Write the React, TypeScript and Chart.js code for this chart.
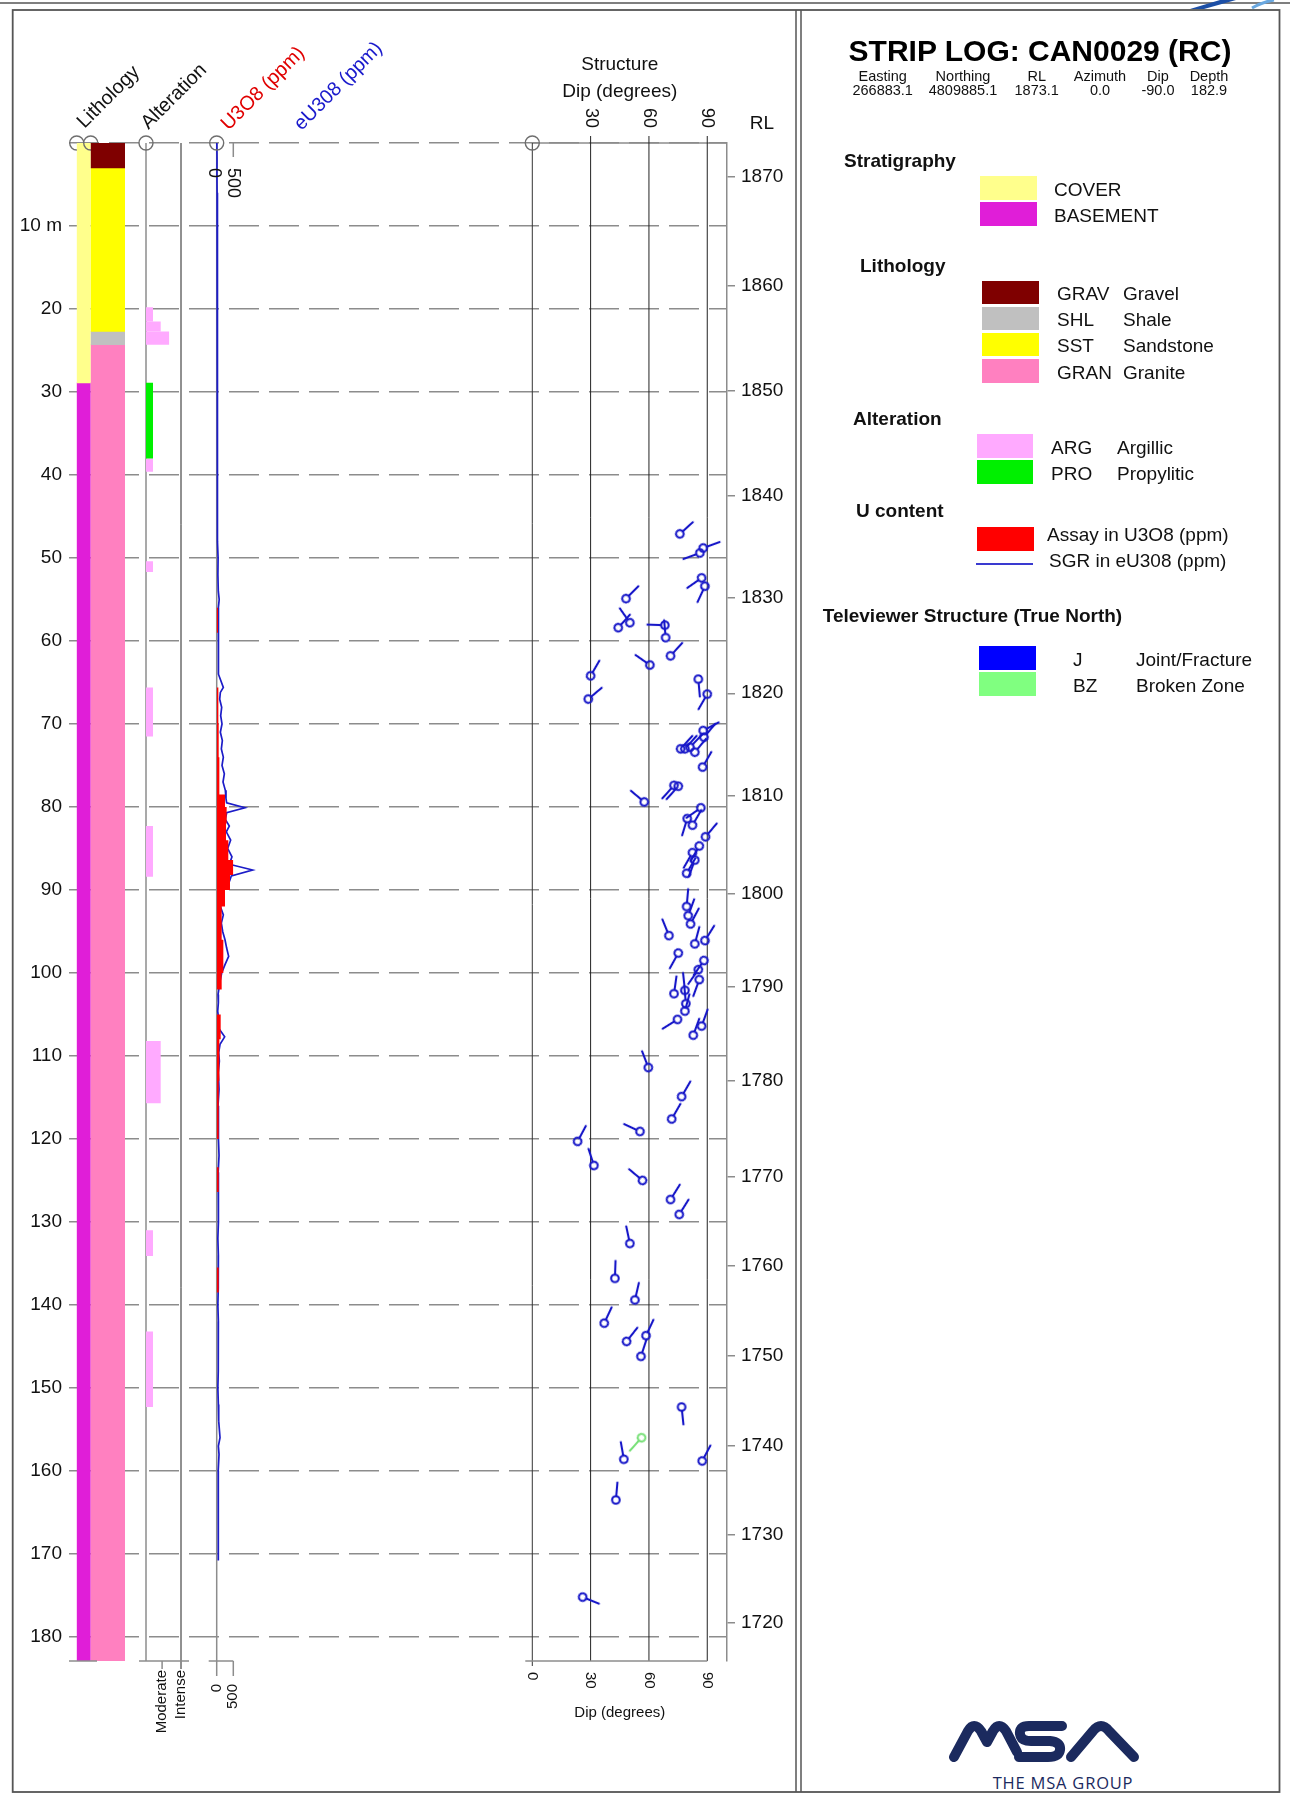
import React, { useEffect, useRef } from 'react';
import { Chart, registerables } from 'chart.js';

Chart.register(...registerables);

const PAGE_W = 1290;
const PAGE_H = 1794;
const PLOT_TOP = 143;
const PLOT_BOTTOM = 1661;
const FONT = '"Liberation Sans", Arial, Helvetica, sans-serif';

// ---------------- data ----------------
const MAX_DEPTH = 182.9;
const depthTicks = [0, 10, 20, 30, 40, 50, 60, 70, 80, 90, 100, 110, 120, 130, 140, 150, 160, 170, 180];
const rlLabels = ['1870', '1860', '1850', '1840', '1830', '1820', '1810', '1800', '1790', '1780', '1770', '1760', '1750', '1740', '1730', '1720'];
const rlTickDepths = [4.1, 17.2, 29.8, 42.5, 54.8, 66.3, 78.7, 90.4, 101.7, 113.0, 124.5, 135.3, 146.1, 157.0, 167.7, 178.3];

const stratigraphy: [string, number, number][] = [
  ['COVER', 0, 28.9],
  ['BASEMENT', 28.9, 182.9],
];
const lithology: [string, number, number][] = [
  ['GRAV', 0, 3.0],
  ['SST', 3.0, 22.7],
  ['SHL', 22.7, 24.3],
  ['GRAN', 24.3, 182.9],
];
const alteration: [string, number, number, number][] = [
  ['ARG', 19.8, 21.5, 1.0],
  ['ARG', 21.5, 22.7, 2.1],
  ['ARG', 22.7, 24.3, 3.3],
  ['PRO', 28.9, 38.0, 1.0],
  ['ARG', 38.0, 39.6, 1.0],
  ['ARG', 50.4, 51.7, 1.0],
  ['ARG', 65.6, 71.5, 1.0],
  ['ARG', 82.3, 88.4, 1.0],
  ['ARG', 108.2, 115.7, 2.1],
  ['ARG', 131.0, 134.1, 1.0],
  ['ARG', 143.2, 152.3, 1.0],
];
const alterationMax = 5;
const alterationTickValues = [2.3, 5];
const alterationTickLabels = ['Moderate', 'Intense'];

const assayIntervals: [number, number, number][] = [
  [56.0, 59.0, 40], [65.6, 70.0, 50], [70.0, 74.0, 60], [74.0, 78.5, 80],
  [78.5, 80.0, 250], [80.0, 82.0, 300], [82.0, 84.0, 280], [84.0, 86.4, 350],
  [86.4, 88.2, 500], [88.2, 90.0, 400], [90.0, 92.0, 250], [92.0, 96.0, 150],
  [96.0, 100.0, 200], [100.0, 102.0, 150], [105.0, 108.0, 120], [108.0, 113.0, 80],
  [113.0, 120.0, 60], [123.4, 126.4, 60], [135.5, 138.5, 60],
];
const uTickValues = [0, 500];

// [depth m, eU3O8 ppm]
const sgrProfile: [number, number][] = [
  [0, 5], [2, 10], [4, 8], [6, 12], [8, 10], [10, 15], [12, 12], [14, 18], [16, 14], [18, 20],
  [20, 16], [22, 22], [24, 18], [26, 26], [28, 22], [30, 18], [32, 26], [34, 22], [36, 30], [38, 24],
  [40, 28], [42, 34], [44, 27], [46, 38], [48, 32], [50, 42], [52, 36], [54, 48], [55, 75], [56, 50],
  [58, 58], [60, 42], [62, 52], [64, 58], [65.6, 200], [66.2, 110], [67, 90], [68, 150], [69, 120], [70, 160],
  [71, 110], [72, 170], [73, 140], [74, 200], [75, 160], [76, 230], [77, 190], [78, 260], [79, 280], [79.5, 300],
  [80.1, 850], [80.7, 300], [81.5, 260], [82.3, 380], [83, 290], [84, 420], [85, 330], [86, 460], [86.9, 380], [87.6, 1080],
  [88.3, 440], [89, 380], [90, 220], [91, 190], [92, 110], [93, 200], [94, 140], [95, 180], [96, 250], [97, 300],
  [98, 360], [99, 250], [100, 150], [101, 100], [101.8, 70], [102.6, 40], [103.6, 50], [104.6, 30], [105.6, 60], [106.6, 50],
  [107.7, 240], [108.6, 100], [109.6, 60], [110.6, 80], [112, 50], [114, 70], [116, 40], [118, 60], [120, 45], [122, 70],
  [124, 45], [126, 60], [128, 40], [130, 55], [132, 35], [134, 50], [136, 40], [138, 55], [140, 35], [142, 50],
  [144, 40], [146, 55], [148, 45], [150, 35], [152, 50], [154, 60], [156, 100], [157, 50], [158, 70], [160, 45],
  [162, 60], [164, 40], [166, 55], [168, 40], [170, 50], [170.8, 45],
];

// [depth m, dip deg, azimuth of tail deg]
const joints: [number, number, number][] = [
  [47.1, 75.9, 48], [48.8, 87.9, 70], [49.4, 86.2, 250], [52.4, 87.1, 235], [53.4, 88.8, 205],
  [54.9, 48.2, 45], [57.8, 50.2, 325], [58.4, 44.2, 42], [58.1, 68.2, 272], [59.6, 68.6, 355],
  [61.8, 71.1, 42], [62.9, 60.5, 305], [64.2, 30.0, 30], [67.0, 28.8, 50], [64.6, 85.4, 175],
  [66.4, 90.0, 210], [70.8, 87.9, 62], [73.0, 76.3, 42], [73.0, 78.5, 42], [72.8, 81.1, 44],
  [73.4, 83.6, 40], [71.6, 88.3, 40], [75.2, 87.6, 30], [79.4, 57.6, 310], [77.4, 72.9, 222],
  [77.5, 75.1, 222], [80.1, 86.7, 235], [81.4, 79.7, 197], [82.2, 82.4, 30], [83.6, 89.1, 40],
  [84.7, 85.9, 210], [85.5, 82.4, 210], [86.4, 83.6, 200], [88.0, 79.4, 30], [92.0, 79.4, 5],
  [93.1, 80.2, 20], [94.1, 81.4, 28], [95.5, 70.3, 338], [96.5, 83.6, 15], [96.1, 88.8, 32],
  [97.6, 75.1, 209], [98.5, 88.3, 215], [99.6, 85.4, 215], [100.8, 85.9, 200], [102.5, 72.9, 8],
  [102.1, 78.5, 354], [103.7, 79.0, 355], [104.6, 78.5, 15], [105.6, 74.7, 238], [107.5, 82.8, 20],
  [106.4, 87.1, 20], [111.4, 59.7, 339], [114.9, 76.8, 30], [117.6, 71.7, 30], [120.3, 23.3, 28],
  [119.1, 55.4, 295], [123.2, 31.7, 342], [125.0, 56.7, 310], [127.3, 71.1, 32], [129.1, 75.6, 32],
  [132.6, 50.2, 348], [136.8, 42.5, 2], [139.4, 52.8, 13], [142.2, 37.0, 25], [144.4, 48.5, 38],
  [143.7, 58.5, 25], [146.2, 55.9, 18], [152.3, 76.8, 174], [158.6, 47.1, 350], [158.8, 87.4, 28],
  [163.5, 43.0, 5], [175.2, 25.9, 112],
];
const brokenZones: [number, number, number][] = [[156.0, 56.2, 222]];
const dipTicks = [0, 30, 60, 90];
const dipTopTicks = [30, 60, 90];
const dipMax = 100;

const headerLabels = ['Easting', 'Northing', 'RL', 'Azimuth', 'Dip', 'Depth'];
const headerValues = ['266883.1', '4809885.1', '1873.1', '0.0', '-90.0', '182.9'];

// ---------------- styles ----------------
const unitColors: Record<string, string> = {
  COVER: '#ffff8c', BASEMENT: '#e01ed8',
  GRAV: '#7f0000', SHL: '#c0c0c0', SST: '#ffff00', GRAN: '#ff80c0',
  ARG: '#ffaaff', PRO: '#00f000',
};
const GRID = '#8c8c8c';
const J_COLOR = '#1616c8';
const BZ_COLOR = '#78e078';
const SGR_COLOR = '#1c1cc8';
const LOGO = '#1b2a5e';

// column geometry (page pixels)
const STRAT_L = 76.7, STRAT_R = 90.7;
const LITH_L = 90.7, LITH_R = 125;
const ALT_L = 146, ALT_R = 181;
const U_L = 216.7, U_R = 233.3;
const ST_L = 532.3, ST_R = 726.7;
const DEPTH_AXIS_W = 69;
const RL_AXIS_X = 727;

// ---------------- helpers ----------------
function seg(ctx: any, x1: number, y1: number, x2: number, y2: number, color: string, width: number) {
  ctx.save();
  ctx.beginPath();
  ctx.moveTo(x1, y1);
  ctx.lineTo(x2, y2);
  ctx.strokeStyle = color;
  ctx.lineWidth = width;
  ctx.stroke();
  ctx.restore();
}
function ring(ctx: any, x: number, y: number) {
  ctx.save();
  ctx.beginPath();
  ctx.arc(x, y, 7, 0, Math.PI * 2);
  ctx.strokeStyle = '#6e6e6e';
  ctx.lineWidth = 1.4;
  ctx.stroke();
  ctx.restore();
}
function rotText(ctx: any, text: string, x: number, y: number, deg: number, align: string, size: number, color: string, baseline = 'middle') {
  ctx.save();
  ctx.translate(x, y);
  ctx.rotate((deg * Math.PI) / 180);
  ctx.textAlign = align;
  ctx.textBaseline = baseline;
  ctx.font = `${size}px ${FONT}`;
  ctx.fillStyle = color;
  ctx.fillText(text, 0, 0);
  ctx.restore();
}
function makeTadpole(color: string) {
  const c = document.createElement('canvas');
  c.width = 40;
  c.height = 40;
  const g = c.getContext('2d') as CanvasRenderingContext2D;
  g.strokeStyle = color;
  g.lineWidth = 2.1;
  g.lineCap = 'round';
  g.beginPath();
  g.arc(20, 20, 3.8, 0, Math.PI * 2);
  g.stroke();
  g.beginPath();
  g.moveTo(20, 20 - 3.8);
  g.lineTo(20, 20 - 17.5);
  g.stroke();
  return c;
}
function baseOptions(left: number, right: number) {
  return {
    responsive: false,
    animation: false,
    devicePixelRatio: 1,
    events: [],
    layout: { padding: { left, right: PAGE_W - right, top: PLOT_TOP, bottom: PAGE_H - PLOT_BOTTOM } },
    plugins: { legend: { display: false }, tooltip: { enabled: false } },
  };
}
const hiddenDepth = () => ({ type: 'linear', reverse: true, min: 0, max: MAX_DEPTH, display: false });

export default function App() {
  const baseRef = useRef<HTMLCanvasElement>(null);
  const stratRef = useRef<HTMLCanvasElement>(null);
  const lithRef = useRef<HTMLCanvasElement>(null);
  const altRef = useRef<HTMLCanvasElement>(null);
  const uRef = useRef<HTMLCanvasElement>(null);
  const stRef = useRef<HTMLCanvasElement>(null);

  useEffect(() => {
    const charts: any[] = [];

    // ---- base: depth axis, dashed grid, RL axis ----
    charts.push(new Chart(baseRef.current as any, {
      type: 'scatter',
      data: { datasets: [] },
      options: {
        ...baseOptions(0, PAGE_W),
        layout: { padding: { left: 0, right: 0, top: PLOT_TOP, bottom: PAGE_H - PLOT_BOTTOM } },
        scales: {
          x: { type: 'linear', display: false, min: 0, max: 1 },
          y: {
            type: 'linear', position: 'left', reverse: true, min: 0, max: MAX_DEPTH,
            afterFit: (s: any) => { s.width = DEPTH_AXIS_W; },
            afterBuildTicks: (s: any) => { s.ticks = depthTicks.map((v) => ({ value: v })); },
            ticks: {
              autoSkip: false, padding: 7, color: '#111',
              font: { family: FONT, size: 19 },
              callback: (v: any) => (v === 0 ? '' : v === 10 ? '10 m' : String(v)),
            },
            grid: { color: GRID, lineWidth: 1.5, drawTicks: false },
            border: { display: false, dash: [30, 10] },
          },
          rl: {
            type: 'linear', position: 'right', reverse: true, min: 0, max: MAX_DEPTH,
            afterFit: (s: any) => { s.width = PAGE_W - RL_AXIS_X; },
            afterBuildTicks: (s: any) => { s.ticks = rlTickDepths.map((v) => ({ value: v })); },
            ticks: {
              autoSkip: false, padding: 6, color: '#111',
              font: { family: FONT, size: 19 },
              callback: (_v: any, i: number) => rlLabels[i],
            },
            grid: { drawOnChartArea: false, drawTicks: true, tickLength: 8, color: GRID, lineWidth: 1.5 },
            border: { display: true, color: GRID, width: 1.5 },
          },
        },
      },
      plugins: [{
        id: 'rlTitle',
        afterDraw(chart: any) {
          const ctx = chart.ctx;
          ctx.save();
          ctx.font = `19px ${FONT}`;
          ctx.fillStyle = '#111';
          ctx.textAlign = 'center';
          ctx.textBaseline = 'middle';
          ctx.fillText('RL', chart.chartArea.right + 35, 124);
          ctx.restore();
        },
      }],
    } as any));

    // ---- stratigraphy ----
    charts.push(new Chart(stratRef.current as any, {
      type: 'bar',
      data: {
        labels: ['Stratigraphy'],
        datasets: stratigraphy.map(([name, from, to]) => ({
          label: name, data: [[from, to]], backgroundColor: unitColors[name],
          grouped: false, barPercentage: 1, categoryPercentage: 1, borderWidth: 0,
        })),
      },
      options: { ...baseOptions(STRAT_L, STRAT_R), scales: { x: { display: false }, y: hiddenDepth() } },
      plugins: [{
        id: 'stratRing',
        beforeDatasetsDraw(chart: any) {
          ring(chart.ctx, chart.chartArea.left, chart.chartArea.top);
        },
      }],
    } as any));

    // ---- lithology ----
    charts.push(new Chart(lithRef.current as any, {
      type: 'bar',
      data: {
        labels: ['Lithology'],
        datasets: lithology.map(([code, from, to]) => ({
          label: code, data: [[from, to]], backgroundColor: unitColors[code],
          grouped: false, barPercentage: 1, categoryPercentage: 1, borderWidth: 0,
        })),
      },
      options: { ...baseOptions(LITH_L, LITH_R), scales: { x: { display: false }, y: hiddenDepth() } },
      plugins: [{
        id: 'lithDeco',
        beforeDatasetsDraw(chart: any) {
          ring(chart.ctx, chart.chartArea.left, chart.chartArea.top);
        },
        afterDraw(chart: any) {
          const ctx = chart.ctx;
          const { bottom } = chart.chartArea;
          seg(ctx, DEPTH_AXIS_W, bottom, 97, bottom, GRID, 1.5);
          rotText(ctx, 'Lithology', 84.5, 129, -45, 'left', 19.8, '#111', 'alphabetic');
        },
      }],
    } as any));

    // ---- alteration ----
    charts.push(new Chart(altRef.current as any, {
      type: 'scatter',
      data: {
        datasets: alteration.map(([code, from, to, v]) => ({
          label: code,
          data: [{ x: 0, y: from }, { x: v, y: from }, { x: v, y: to }, { x: 0, y: to }],
          showLine: true, fill: 'shape', backgroundColor: unitColors[code],
          borderColor: 'rgba(0,0,0,0)', borderWidth: 0, pointRadius: 0,
        })),
      },
      options: {
        ...baseOptions(ALT_L, ALT_R),
        scales: { x: { type: 'linear', min: 0, max: alterationMax, display: false }, y: hiddenDepth() },
      },
      plugins: [{
        id: 'altDeco',
        beforeDatasetsDraw(chart: any) {
          const ctx = chart.ctx;
          const { top, bottom } = chart.chartArea;
          const xs = chart.scales.x;
          seg(ctx, xs.getPixelForValue(0), top, xs.getPixelForValue(0), bottom, GRID, 1.5);
          seg(ctx, xs.getPixelForValue(alterationMax), top, xs.getPixelForValue(alterationMax), bottom + 8, '#222', 1);
        },
        afterDraw(chart: any) {
          const ctx = chart.ctx;
          const { top, bottom } = chart.chartArea;
          const xs = chart.scales.x;
          const x0 = xs.getPixelForValue(0);
          ring(ctx, x0, top);
          seg(ctx, x0 - 7, bottom, xs.getPixelForValue(alterationMax) + 8, bottom, GRID, 1.5);
          alterationTickValues.forEach((v, i) => {
            const x = xs.getPixelForValue(v);
            if (v !== alterationMax) seg(ctx, x, bottom, x, bottom + 8, GRID, 1.5);
            rotText(ctx, alterationTickLabels[i], x, bottom + 9, -90, 'right', 15, '#111');
          });
          rotText(ctx, 'Alteration', 148.5, 130, -45, 'left', 19.8, '#111', 'alphabetic');
        },
      }],
    } as any));

    // ---- U3O8 / eU3O8 ----
    const assayPoints: any[] = [];
    assayIntervals.forEach(([from, to, v]) => {
      assayPoints.push({ x: 0, y: from }, { x: v, y: from }, { x: v, y: to }, { x: 0, y: to });
    });
    charts.push(new Chart(uRef.current as any, {
      type: 'scatter',
      data: {
        datasets: [
          {
            label: 'Assay U3O8', data: assayPoints, showLine: true, fill: 'shape',
            backgroundColor: '#ff0000', borderColor: 'rgba(0,0,0,0)', borderWidth: 0, pointRadius: 0,
          },
          {
            label: 'SGR eU3O8', data: sgrProfile.map(([d, v]) => ({ x: v, y: d })), showLine: true,
            borderColor: SGR_COLOR, borderWidth: 1.7, pointRadius: 0, clip: false,
          },
        ],
      },
      options: {
        ...baseOptions(U_L, U_R),
        scales: { x: { type: 'linear', min: 0, max: 500, display: false }, y: hiddenDepth() },
      },
      plugins: [{
        id: 'uDeco',
        beforeDatasetsDraw(chart: any) {
          const ctx = chart.ctx;
          const { top, bottom } = chart.chartArea;
          const xs = chart.scales.x;
          const x0 = xs.getPixelForValue(uTickValues[0]);
          const x1 = xs.getPixelForValue(uTickValues[1]);
          seg(ctx, x0, top, x0, bottom + 15, GRID, 1.5);
          seg(ctx, x1, top, x1, top + 14, GRID, 1.5);
          seg(ctx, x0 - 8, bottom, x1, bottom, GRID, 1.5);
          seg(ctx, x1, bottom, x1, bottom + 15, GRID, 1.5);
        },
        afterDraw(chart: any) {
          const ctx = chart.ctx;
          const { top, bottom } = chart.chartArea;
          const xs = chart.scales.x;
          const x0 = xs.getPixelForValue(uTickValues[0]);
          ring(ctx, x0, top);
          uTickValues.forEach((v) => {
            const x = xs.getPixelForValue(v);
            rotText(ctx, String(v), x + (v === 0 ? -2.5 : 0), top + 25, 90, 'left', 18, '#111');
            rotText(ctx, String(v), x, bottom + 23, -90, 'right', 15, '#111');
          });
          rotText(ctx, 'U3O8 (ppm)', 228.5, 131, -45, 'left', 19.8, '#e00000', 'alphabetic');
          rotText(ctx, 'eU308 (ppm)', 301.5, 131, -45, 'left', 19.8, '#1a1acc', 'alphabetic');
        },
      }],
    } as any));

    // ---- structure ----
    const tadJ = makeTadpole(J_COLOR);
    const tadBZ = makeTadpole(BZ_COLOR);
    charts.push(new Chart(stRef.current as any, {
      type: 'scatter',
      data: {
        datasets: [
          {
            label: 'J', data: joints.map(([d, dip]) => ({ x: dip, y: d })),
            pointStyle: tadJ, pointRadius: 4, pointRotation: joints.map((j) => j[2]), clip: false,
          },
          {
            label: 'BZ', data: brokenZones.map(([d, dip]) => ({ x: dip, y: d })),
            pointStyle: tadBZ, pointRadius: 4, pointRotation: brokenZones.map((j) => j[2]), clip: false,
          },
        ],
      },
      options: {
        ...baseOptions(ST_L, ST_R),
        scales: { x: { type: 'linear', min: 0, max: dipMax, display: false }, y: hiddenDepth() },
      },
      plugins: [{
        id: 'stDeco',
        beforeDatasetsDraw(chart: any) {
          const ctx = chart.ctx;
          const { top, bottom } = chart.chartArea;
          const xs = chart.scales.x;
          const x0 = xs.getPixelForValue(0);
          seg(ctx, x0, top, xs.getPixelForValue(dipMax), top, GRID, 1.5);
          seg(ctx, x0, top, x0, bottom + 5, '#333', 1);
          dipTopTicks.forEach((v) => {
            const x = xs.getPixelForValue(v);
            seg(ctx, x, top - 7, x, bottom, '#222', 1);
          });
          seg(ctx, x0 - 7, bottom, xs.getPixelForValue(90), bottom, GRID, 1.5);
        },
        afterDraw(chart: any) {
          const ctx = chart.ctx;
          const { top, bottom } = chart.chartArea;
          const xs = chart.scales.x;
          const x0 = xs.getPixelForValue(0);
          const xc = (x0 + xs.getPixelForValue(90)) / 2;
          ring(ctx, x0, top);
          dipTopTicks.forEach((v) => rotText(ctx, String(v), xs.getPixelForValue(v), top - 35, 90, 'left', 18, '#111'));
          dipTicks.forEach((v) => rotText(ctx, String(v), xs.getPixelForValue(v), bottom + 11, 90, 'left', 15, '#111'));
          ctx.save();
          ctx.fillStyle = '#111';
          ctx.textAlign = 'center';
          ctx.textBaseline = 'middle';
          ctx.font = `19px ${FONT}`;
          ctx.fillText('Structure', xc, 65);
          ctx.fillText('Dip (degrees)', xc, 92);
          ctx.font = `15px ${FONT}`;
          ctx.fillText('Dip (degrees)', xc, bottom + 52);
          ctx.restore();
        },
      }],
    } as any));

    return () => charts.forEach((c) => c.destroy());
  }, []);

  const canvasStyle: React.CSSProperties = { position: 'absolute', left: 0, top: 0, width: PAGE_W, height: PAGE_H };
  const txt = (x: number, y: number, s: string, extra: React.CSSProperties = {}) => (
    <div style={{ position: 'absolute', left: x, top: y, transform: 'translateY(-50%)', whiteSpace: 'nowrap', lineHeight: 1, fontSize: 19, color: '#111', ...extra }}>{s}</div>
  );
  const swatch = (x: number, y1: number, y2: number, w: number, color: string) => (
    <div style={{ position: 'absolute', left: x, top: y1, width: w, height: y2 - y1, background: color }} />
  );
  const headerX = [882.7, 963, 1036.7, 1100, 1158, 1209];

  return (
    <div style={{ position: 'absolute', left: 0, top: 0, width: PAGE_W, height: PAGE_H, background: '#fff', overflow: 'hidden', fontFamily: FONT }}>
      <svg width={PAGE_W} height={PAGE_H} style={{ position: 'absolute', left: 0, top: 0 }}>
        <line x1={0} y1={3} x2={PAGE_W} y2={3} stroke="#555" strokeWidth={1.5} />
        <rect x={12.7} y={10} width={1279.5 - 12.7} height={1792 - 10} fill="none" stroke="#555" strokeWidth={1.8} />
        <line x1={796} y1={10} x2={796} y2={1792} stroke="#555" strokeWidth={1.5} />
        <line x1={801} y1={10} x2={801} y2={1792} stroke="#555" strokeWidth={1.5} />
        <polygon points="1190,9 1220,0 1236,0 1204,9" fill="#1c4fa6" />
        <path d="M1252 8 Q1262 2 1274 0" stroke="#6aa8e0" strokeWidth={3} fill="none" />
        <g stroke={LOGO} strokeWidth={10} fill="none" strokeLinecap="round" strokeLinejoin="round">
          <path d="M954 1757 L968 1731 Q974 1721 981 1731 L987 1742 L993 1731 Q999 1721 1006 1731 L1017 1752" />
          <path d="M1062 1726 L1029 1726 Q1019 1726 1020 1734 Q1021 1741 1031 1741 L1050 1741 Q1061 1742 1060 1750 Q1059 1757 1048 1757 L1019 1757" />
          <path d="M1071 1757 L1093 1731 Q1101 1721 1109 1731 L1134 1757" />
        </g>
        <text x={1063} y={1789} textAnchor="middle" fill={LOGO} fontSize={16.5} fontFamily='"Open Sans", sans-serif' letterSpacing={0.8}>THE MSA GROUP</text>
      </svg>

      <canvas ref={baseRef} width={PAGE_W} height={PAGE_H} style={canvasStyle} />
      <canvas ref={stratRef} width={PAGE_W} height={PAGE_H} style={canvasStyle} />
      <canvas ref={lithRef} width={PAGE_W} height={PAGE_H} style={canvasStyle} />
      <canvas ref={altRef} width={PAGE_W} height={PAGE_H} style={canvasStyle} />
      <canvas ref={uRef} width={PAGE_W} height={PAGE_H} style={canvasStyle} />
      <canvas ref={stRef} width={PAGE_W} height={PAGE_H} style={canvasStyle} />

      {/* title block */}
      <div style={{ position: 'absolute', left: 1040, top: 51, transform: 'translate(-50%, -50%)', whiteSpace: 'nowrap', lineHeight: 1, fontSize: 30, fontWeight: 'bold', color: '#000' }}>STRIP LOG: CAN0029 (RC)</div>
      {headerLabels.map((h, i) => (
        <div key={h} style={{ position: 'absolute', left: headerX[i], top: 76, transform: 'translate(-50%, -50%)', whiteSpace: 'nowrap', lineHeight: 1, fontSize: 14.5, color: '#111' }}>{h}</div>
      ))}
      {headerValues.map((h, i) => (
        <div key={h + i} style={{ position: 'absolute', left: headerX[i], top: 90, transform: 'translate(-50%, -50%)', whiteSpace: 'nowrap', lineHeight: 1, fontSize: 14.5, color: '#111' }}>{h}</div>
      ))}

      {/* legend */}
      {txt(844, 160.3, 'Stratigraphy', { fontWeight: 'bold' })}
      {swatch(980, 176.2, 200.2, 57, unitColors.COVER)}
      {swatch(980, 202, 226.2, 57, unitColors.BASEMENT)}
      {txt(1054, 188.5, 'COVER')}
      {txt(1054, 215, 'BASEMENT')}

      {txt(860, 265, 'Lithology', { fontWeight: 'bold' })}
      {swatch(982, 280.6, 303.9, 57, unitColors.GRAV)}
      {swatch(982, 306.8, 329.8, 57, unitColors.SHL)}
      {swatch(982, 332.7, 356.4, 57, unitColors.SST)}
      {swatch(982, 359.4, 383.4, 57, unitColors.GRAN)}
      {txt(1057, 292.8, 'GRAV')}{txt(1123, 292.8, 'Gravel')}
      {txt(1057, 319.4, 'SHL')}{txt(1123, 319.4, 'Shale')}
      {txt(1057, 345.3, 'SST')}{txt(1123, 345.3, 'Sandstone')}
      {txt(1057, 372.3, 'GRAN')}{txt(1123, 372.3, 'Granite')}

      {txt(853, 417.8, 'Alteration', { fontWeight: 'bold' })}
      {swatch(977, 434, 458.2, 56, unitColors.ARG)}
      {swatch(977, 460.4, 484, 56, unitColors.PRO)}
      {txt(1051, 447, 'ARG')}{txt(1117, 447, 'Argillic')}
      {txt(1051, 473.3, 'PRO')}{txt(1117, 473.3, 'Propylitic')}

      {txt(856, 510, 'U content', { fontWeight: 'bold' })}
      {swatch(977, 526.6, 550.6, 57, '#ff0000')}
      <div style={{ position: 'absolute', left: 976, top: 563, width: 57, height: 1.5, background: '#3a3ad0' }} />
      {txt(1047, 534, 'Assay in U3O8 (ppm)')}
      {txt(1049, 560, 'SGR in eU308 (ppm)')}

      {txt(822.7, 615.4, 'Televiewer Structure (True North)', { fontWeight: 'bold' })}
      {swatch(979, 646, 670, 57, '#0000ff')}
      {swatch(979, 672, 696, 57, '#80ff80')}
      {txt(1073, 659, 'J')}{txt(1136, 659, 'Joint/Fracture')}
      {txt(1073, 685, 'BZ')}{txt(1136, 685, 'Broken Zone')}
    </div>
  );
}
